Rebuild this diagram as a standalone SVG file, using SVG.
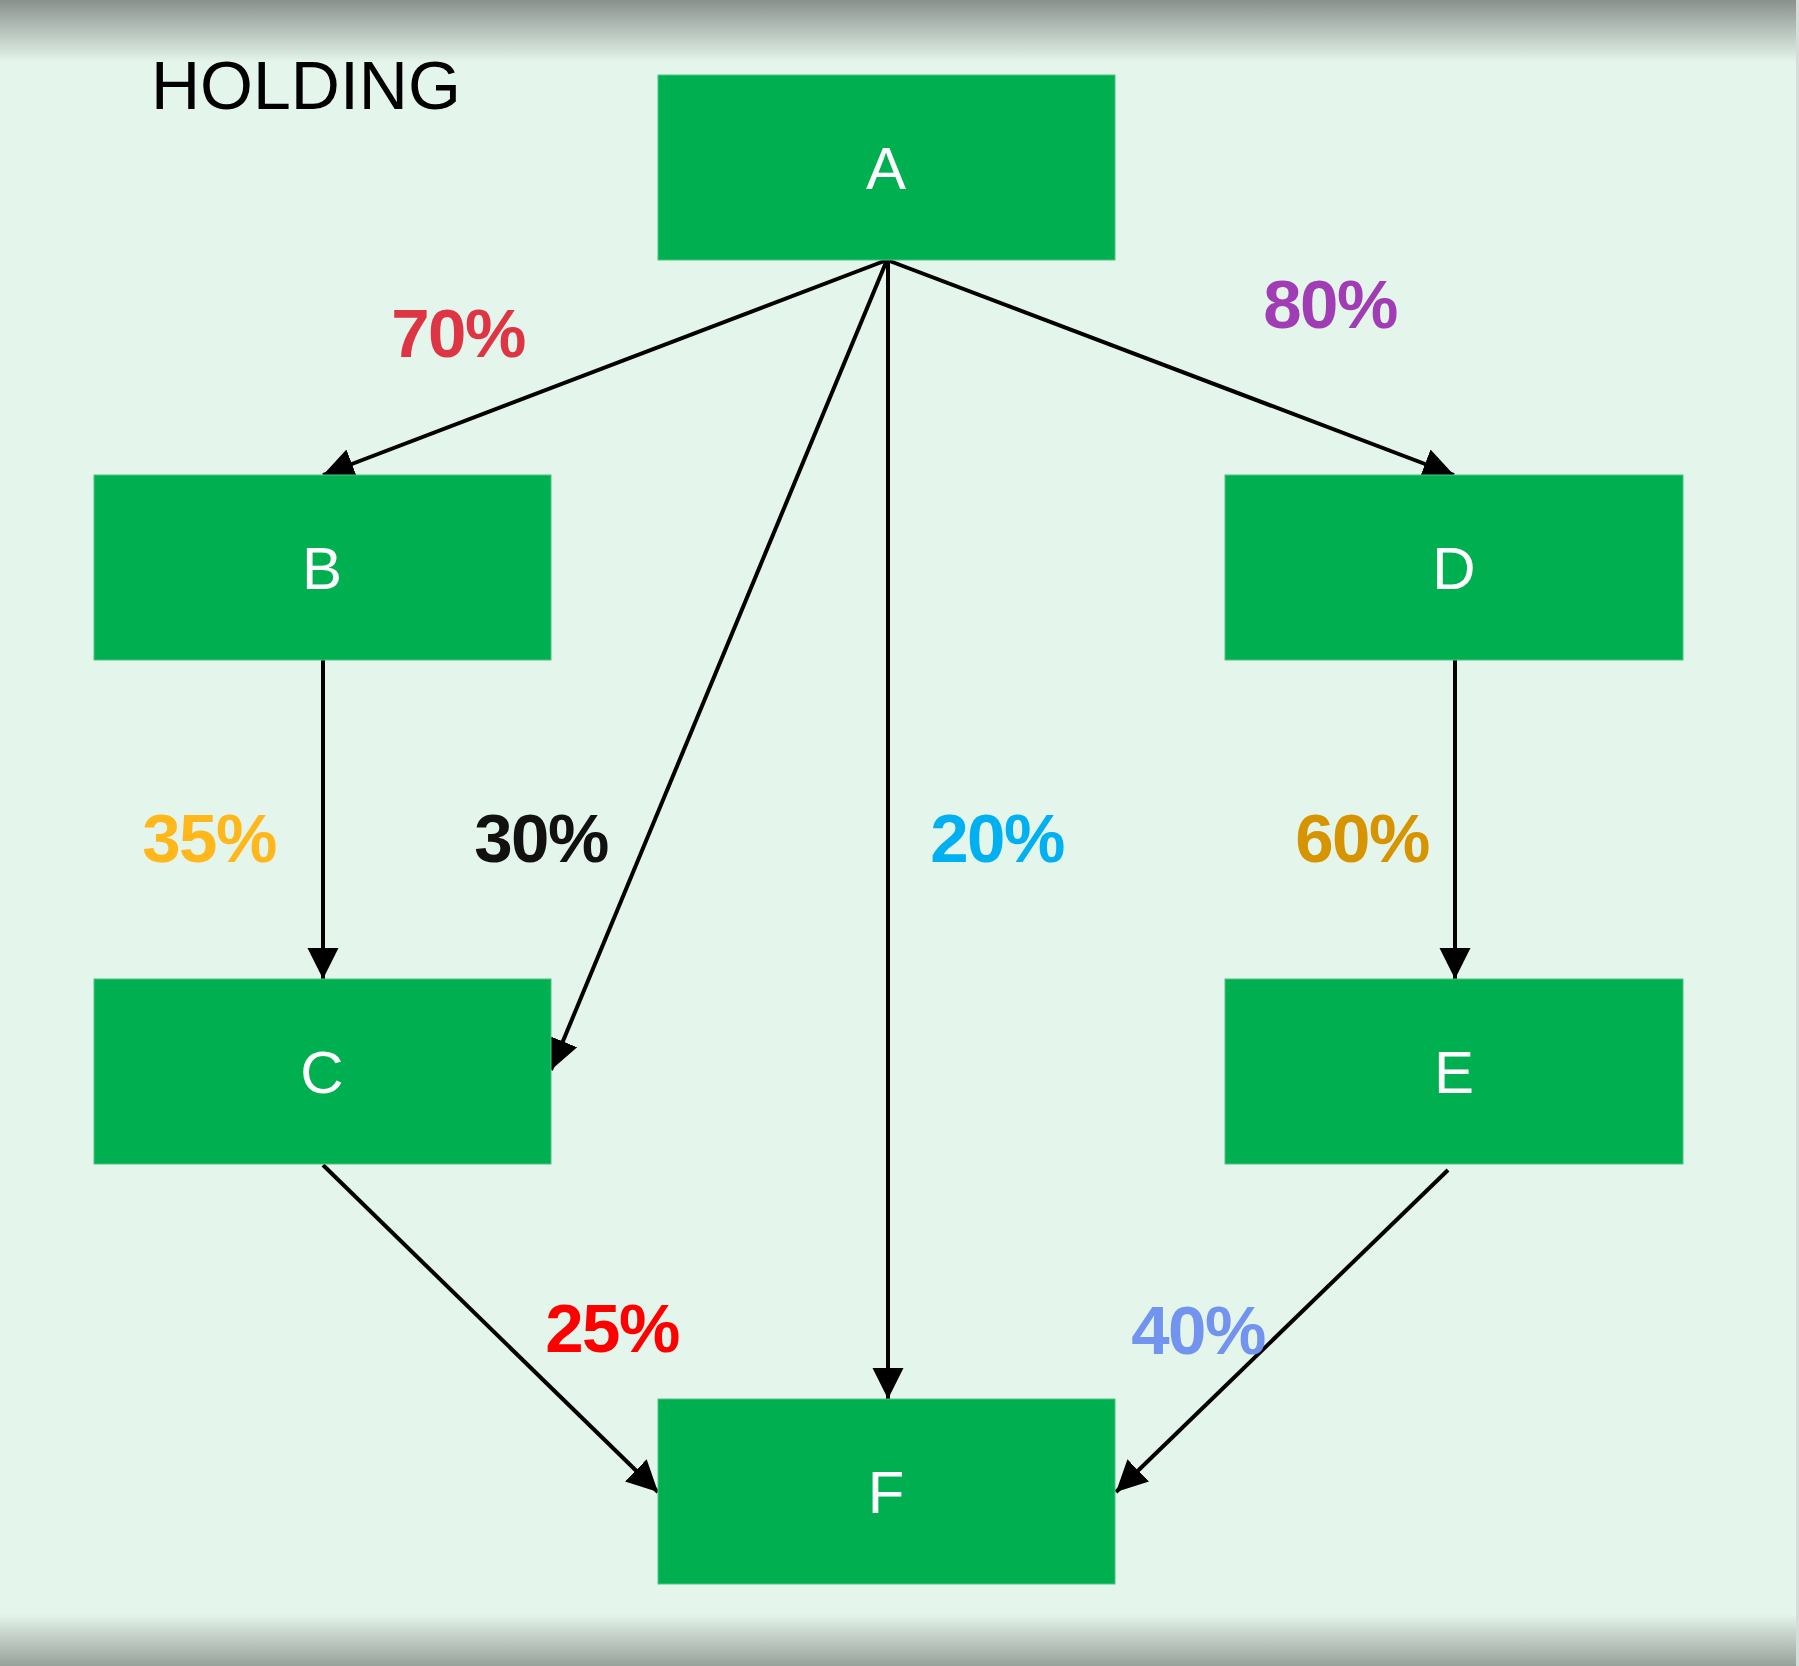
<svg xmlns="http://www.w3.org/2000/svg" width="1799" height="1666" viewBox="0 0 1799 1666">
<style>
.node rect{fill:#00b050;stroke:#4fc585;stroke-width:1}
.node text{fill:#ffffff;font-family:"Liberation Sans",Arial,sans-serif;font-size:60px;text-anchor:middle}
.edge{stroke:#000;stroke-width:4;fill:none;marker-end:url(#arr)}
.pct{font-family:"Liberation Sans",Arial,sans-serif;font-weight:bold;font-size:69px;letter-spacing:-1.5px;text-anchor:middle}
</style>
<defs>
<linearGradient id="topg" x1="0" y1="0" x2="0" y2="1">
<stop offset="0" stop-color="#8a918d"/>
<stop offset="0.5" stop-color="#b7c3bc"/>
<stop offset="1" stop-color="#e4f5eb"/>
</linearGradient>
<linearGradient id="botg" x1="0" y1="0" x2="0" y2="1">
<stop offset="0" stop-color="#e4f5eb"/>
<stop offset="0.5" stop-color="#bfcac3"/>
<stop offset="1" stop-color="#97a29b"/>
</linearGradient>
<marker id="arr" markerUnits="userSpaceOnUse" markerWidth="32" markerHeight="32" refX="30" refY="15" orient="auto" viewBox="0 0 31 30">
<path d="M0,0 L30,15 L0,30 z" fill="#000"/>
</marker>
</defs>
<rect x="0" y="0" width="1799" height="1666" fill="#e4f5eb"/>
<rect x="0" y="0" width="1799" height="62" fill="url(#topg)"/>
<rect x="0" y="1614" width="1799" height="52" fill="url(#botg)"/>
<rect x="1796" y="0" width="3" height="1666" fill="#d6dcd8"/>
<text x="151" y="109" font-family="Liberation Sans, Arial, sans-serif" font-size="68" fill="#000">HOLDING</text>
<g id="connectors">
<line class="edge" x1="887" y1="260" x2="323" y2="475"/>
<line class="edge" x1="887" y1="260" x2="1454" y2="475"/>
<line class="edge" x1="887" y1="260" x2="551" y2="1070"/>
<line class="edge" x1="888" y1="260" x2="888" y2="1399"/>
<line class="edge" x1="323" y1="660" x2="323" y2="979"/>
<line class="edge" x1="1455" y1="660" x2="1455" y2="979"/>
<line class="edge" x1="323" y1="1165" x2="658" y2="1492"/>
<line class="edge" x1="1448" y1="1170" x2="1116" y2="1492"/>
</g>
<g id="labels">
<text class="pct" x="458" y="357" fill="#de3545">70%</text>
<text class="pct" x="1330" y="328" fill="#a03cb4">80%</text>
<text class="pct" x="209" y="862" fill="#ffb81c">35%</text>
<text class="pct" x="541" y="862" fill="#111111">30%</text>
<text class="pct" x="997" y="862" fill="#00b0f0">20%</text>
<text class="pct" x="1362" y="862" fill="#d69500">60%</text>
<text class="pct" x="612" y="1352" fill="#ff0000">25%</text>
<text class="pct" x="1198" y="1354" fill="#7394ee">40%</text>
</g>
<g id="A" class="node"><rect x="658" y="75" width="457" height="185"/><text x="886" y="189">A</text></g>
<g id="B" class="node"><rect x="94" y="475" width="457" height="185"/><text x="322" y="589">B</text></g>
<g id="D" class="node"><rect x="1225" y="475" width="458" height="185"/><text x="1454" y="589">D</text></g>
<g id="C" class="node"><rect x="94" y="979" width="457" height="185"/><text x="322" y="1093">C</text></g>
<g id="E" class="node"><rect x="1225" y="979" width="458" height="185"/><text x="1454" y="1093">E</text></g>
<g id="F" class="node"><rect x="658" y="1399" width="457" height="185"/><text x="886" y="1513">F</text></g>
</svg>
